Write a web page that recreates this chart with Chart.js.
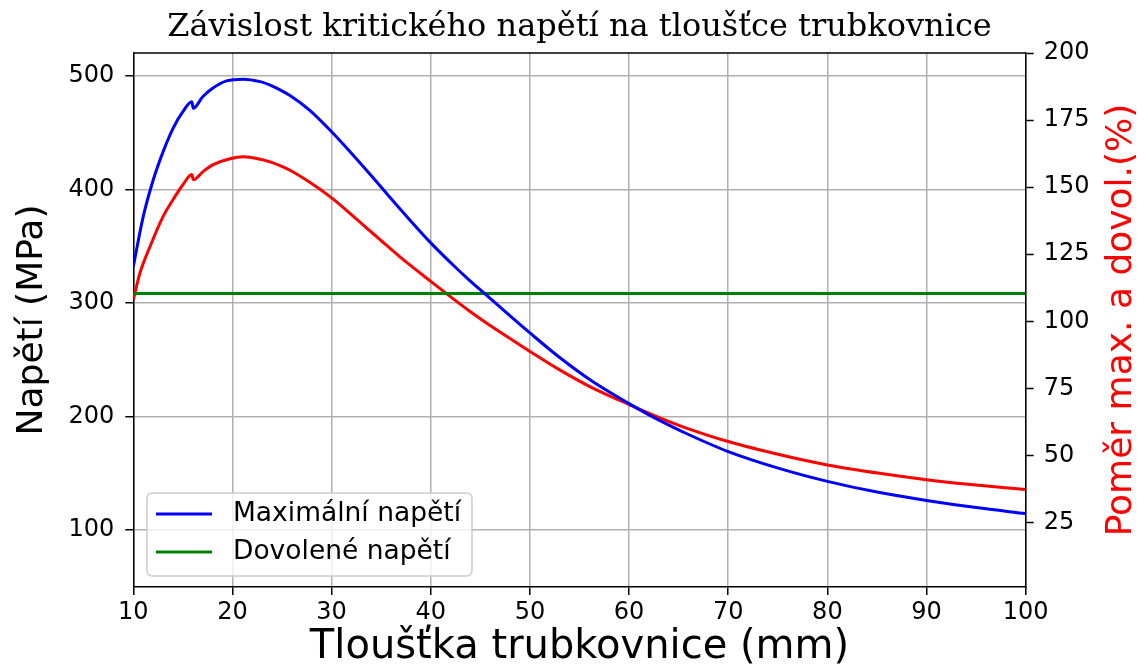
<!DOCTYPE html>
<html>
<head>
<meta charset="utf-8">
<script src="https://cdn.jsdelivr.net/npm/chart.js@4.4.1/dist/chart.umd.min.js"></script>
<style>
  html, body { margin: 0; padding: 0; background: #fff; }
</style>
</head>
<body>
<canvas id="graf" width="1144" height="670"></canvas>
<script>
// Tloušťka trubkovnice (mm) - body
const tloustkaMax = [10, 11, 12, 13, 14, 15, 15.9, 16.05, 17, 18, 19.4, 21.1, 22.8, 23.8, 24.8, 25.8, 27.8, 30, 32.2, 33.9, 35.55, 37.2, 40, 42.3, 43.96, 45.5, 48, 50, 53, 56.4, 60, 62, 63.1, 65.5, 70, 75.55, 80, 85, 90, 95, 100];
const napetiMax = [332, 376, 408, 433, 453.5, 468.3, 477, 471.3, 481.5, 489, 495.5, 497, 494.8, 491.8, 487.6, 482.6, 469.6, 450.7, 429.8, 413, 396.3, 379.8, 352.9, 333, 319.5, 307.8, 288.6, 273.6, 252, 230.4, 211.4, 201.5, 196.5, 186.2, 169.2, 153.3, 143, 133.6, 126.2, 119.9, 114.6];

const tloustkaPomer = [10, 10.67, 11.7, 13, 14, 15, 15.9, 16.05, 17.06, 18.07, 19.75, 21.1, 22.8, 23.8, 24.8, 25.8, 27.8, 30, 32.2, 33.9, 35.55, 37.2, 40, 42.3, 44, 45.5, 48, 50, 53, 56.4, 60, 62.1, 63.1, 65.5, 70, 75.55, 80, 85.6, 90, 94.7, 100];
const pomer = [108, 118, 128, 139, 145.3, 150.9, 154.7, 152.8, 155.9, 158.4, 160.6, 161.3, 160.4, 159.4, 158, 156.3, 151.8, 146, 139.1, 133.6, 128.3, 123.1, 114.9, 108.3, 103.6, 99.7, 93.6, 88.8, 81.9, 75, 69, 65.6, 64, 60.6, 55.2, 50, 46.5, 43.2, 41, 39.1, 37.3];

const tloustkaDov = [10, 100];
const napetiDov = [308.3, 308.3];

const xTicks = [10, 20, 30, 40, 50, 60, 70, 80, 90, 100];
const yTicksLevy = [100, 200, 300, 400, 500];
const yTicksPravy = [25, 50, 75, 100, 125, 150, 175, 200];

const titulek = 'Závislost kritického napětí na tloušťce trubkovnice';
const popisX = 'Tloušťka trubkovnice (mm)';
const popisYL = 'Napětí (MPa)';
const popisYP = 'Poměr max. a dovol.(%)';

const body = (xs, ys) => xs.map((x, i) => ({ x: x, y: ys[i] }));

Chart.defaults.font.family = 'DejaVu Sans';
Chart.defaults.color = '#000';

// titulky, horní rámeček a legenda uvnitř grafu
const doplnky = {
  id: 'doplnky',
  afterDraw(chart) {
    const { ctx, chartArea: a } = chart;
    ctx.save();
    ctx.strokeStyle = '#000';
    ctx.lineWidth = 1.5;
    ctx.beginPath();
    ctx.moveTo(a.left, a.top);
    ctx.lineTo(a.right, a.top);
    ctx.stroke();

    ctx.fillStyle = '#000';
    ctx.textAlign = 'center';
    ctx.textBaseline = 'middle';
    ctx.font = '32px "DejaVu Serif"';
    ctx.fillText(titulek, (a.left + a.right) / 2, 28);

    ctx.font = '40px "DejaVu Sans"';
    ctx.fillText(popisX, (a.left + a.right) / 2, 648);

    ctx.font = '36px "DejaVu Sans"';
    ctx.save();
    ctx.translate(33, (a.top + a.bottom) / 2);
    ctx.rotate(-Math.PI / 2);
    ctx.fillText(popisYL, 0, 0);
    ctx.restore();

    ctx.save();
    ctx.fillStyle = '#ff0000';
    ctx.translate(1122, (a.top + a.bottom) / 2);
    ctx.rotate(-Math.PI / 2);
    ctx.fillText(popisYP, 0, 0);
    ctx.restore();

    // legenda
    const bx = 147, by = 493, bw = 325, bh = 83;
    ctx.fillStyle = 'rgba(255,255,255,0.8)';
    ctx.strokeStyle = '#cccccc';
    ctx.lineWidth = 1.5;
    ctx.beginPath();
    ctx.roundRect(bx, by, bw, bh, 5);
    ctx.fill();
    ctx.stroke();
    const polozky = chart.data.datasets.filter(d => d.vLegende);
    ctx.font = '26.5px "DejaVu Sans"';
    ctx.textAlign = 'left';
    polozky.forEach((d, i) => {
      const yy = 514 + i * 38;
      ctx.strokeStyle = d.borderColor;
      ctx.lineWidth = 3;
      ctx.beginPath();
      ctx.moveTo(156, yy);
      ctx.lineTo(212, yy);
      ctx.stroke();
      ctx.fillStyle = '#000';
      ctx.fillText(d.label, 233, yy);
    });
    ctx.restore();
  }
};

const jenTicky = (hodnoty) => (axis) => {
  axis.ticks = hodnoty.map(v => ({ value: v }));
};

new Chart(document.getElementById('graf'), {
  type: 'line',
  data: {
    datasets: [
      { label: 'Maximální napětí', data: body(tloustkaMax, napetiMax), borderColor: '#0000ff', yAxisID: 'y', vLegende: true },
      { label: 'Dovolené napětí', data: body(tloustkaDov, napetiDov), borderColor: '#008000', yAxisID: 'y', vLegende: true },
      { label: 'Poměr', data: body(tloustkaPomer, pomer), borderColor: '#ff0000', yAxisID: 'y1', vLegende: false }
    ]
  },
  options: {
    responsive: false,
    animation: false,
    devicePixelRatio: 1,
    layout: { padding: { top: 53 } },
    elements: {
      point: { radius: 0 },
      line: { borderWidth: 3, tension: 0, cubicInterpolationMode: 'monotone', fill: false }
    },
    plugins: {
      legend: { display: false },
      title: { display: false },
      tooltip: { enabled: false }
    },
    scales: {
      x: {
        type: 'linear', min: 10, max: 100,
        afterBuildTicks: jenTicky(xTicks),
        afterFit: (s) => { s.height = 83; },
        ticks: { font: { size: 24 }, padding: 3, maxRotation: 0 },
        grid: { color: '#b0b0b0', lineWidth: 1.5, tickColor: '#000', tickLength: 8, tickWidth: 1.5 },
        border: { color: '#000', width: 1.5 }
      },
      y: {
        position: 'left', min: 50, max: 520,
        afterBuildTicks: jenTicky(yTicksLevy),
        afterFit: (s) => { s.width = 133.3; },
        ticks: { font: { size: 24 }, padding: 11 },
        grid: { color: '#b0b0b0', lineWidth: 1.5, tickColor: '#000', tickLength: 8, tickWidth: 1.5 },
        border: { color: '#000', width: 1.5 }
      },
      y1: {
        position: 'right', min: 1, max: 200,
        afterBuildTicks: jenTicky(yTicksPravy),
        afterFit: (s) => { s.width = 118.3; },
        ticks: { font: { size: 24 }, padding: 10 },
        grid: { drawOnChartArea: false, tickColor: '#000', tickLength: 8, tickWidth: 1.5 },
        border: { color: '#000', width: 1.5 }
      }
    }
  },
  plugins: [doplnky]
});
</script>
</body>
</html>
